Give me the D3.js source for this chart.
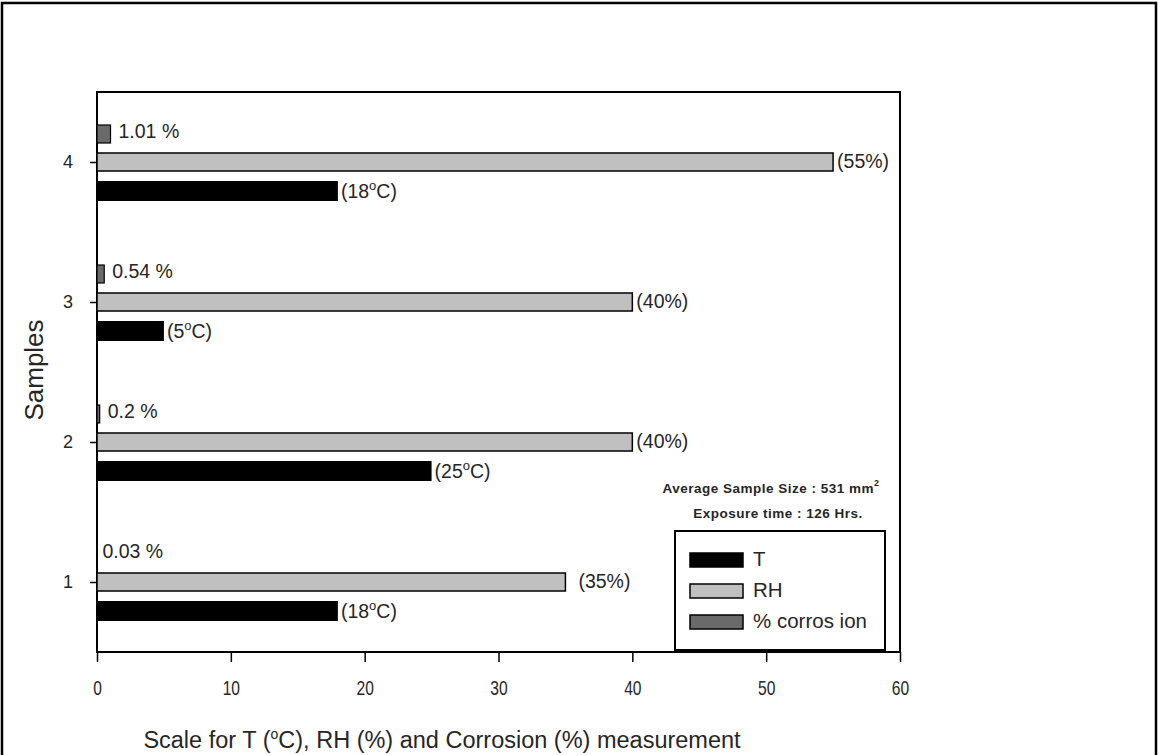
<!DOCTYPE html>
<html>
<head>
<meta charset="utf-8">
<script src="https://cdn.jsdelivr.net/npm/d3@7"></script>
<style>
  body { margin:0; background:#fff; }
  svg text { font-family: "Liberation Sans", Arial, sans-serif; fill:#262626; }
</style>
</head>
<body>
<svg id="chart" width="1158" height="755"></svg>
<script>
const samples = [1, 2, 3, 4];
const tempValues = [18, 25, 5, 18];
const rhValues = [35, 40, 40, 55];
const corrosionValues = [0.03, 0.2, 0.54, 1.01];
const tempLabels = ["18", "25", "5", "18"];
const rhLabels = ["(35%)", "(40%)", "(40%)", "(55%)"];
const corrosionLabels = ["0.03 %", "0.2 %", "0.54 %", "1.01 %"];
const xTicks = [0, 10, 20, 30, 40, 50, 60];
const seriesNames = ["T", "RH", "% corros ion"];
const seriesColors = ["#000000", "#c0c0c0", "#6a6a6a"];

(function () {
const svg = d3.select("#chart");
const pLeft = 97, pRight = 900, pTop = 92, pBottom = 652;
const x = d3.scaleLinear().domain([0, 60]).range([pLeft, pRight]);
const y = d3.scaleLinear().domain([0.5, 4.5]).range([pBottom, pTop]);
const barH = 18;
const off = 0.2;

// outer frame
svg.append("path").attr("d", `M2,755 L2,3 L1156,3 L1156,755`)
  .attr("fill", "none").attr("stroke", "#000").attr("stroke-width", 2.5);

// plot box
svg.append("rect").attr("x", pLeft).attr("y", pTop).attr("width", pRight-pLeft).attr("height", pBottom-pTop)
  .attr("fill", "none").attr("stroke", "#000").attr("stroke-width", 2);

// x axis
const xAxis = d3.axisBottom(x).tickValues(xTicks).tickSize(10).tickSizeOuter(0).tickFormat(d3.format("d"));
const gx = svg.append("g").attr("transform", `translate(0,${pBottom})`).call(xAxis);
gx.select(".domain").remove();
gx.selectAll("line").attr("stroke", "#000").attr("stroke-width", 1.5);
gx.selectAll("text").attr("font-size", 20).attr("y", 0).attr("dy", 0)
  .attr("transform", "translate(0,43) scale(0.78,1)").attr("fill", "#262626");

// y axis
const yAxis = d3.axisLeft(y).tickValues(samples).tickSize(7).tickSizeOuter(0).tickFormat(d3.format("d"));
const gy = svg.append("g").attr("transform", `translate(${pLeft},0)`).call(yAxis);
gy.select(".domain").remove();
gy.selectAll("line").attr("stroke", "#000").attr("stroke-width", 1.5);
gy.selectAll("text").attr("font-size", 18).attr("x", -24).attr("fill", "#262626");

const rows = samples.map((s, i) => ({s, t: tempValues[i], rh: rhValues[i], c: corrosionValues[i],
  tl: tempLabels[i], rl: rhLabels[i], cl: corrosionLabels[i]}));

const g = svg.append("g");
// corrosion
g.selectAll(".cbar").data(rows).join("rect")
  .attr("x", x(0)).attr("y", d => y(d.s + off) - barH/2)
  .attr("width", d => x(d.c) - x(0)).attr("height", barH)
  .attr("fill", seriesColors[2]).attr("stroke", "#000").attr("stroke-width", 1.2);
// RH
g.selectAll(".rbar").data(rows).join("rect")
  .attr("x", x(0)).attr("y", d => y(d.s) - barH/2)
  .attr("width", d => x(d.rh) - x(0)).attr("height", barH)
  .attr("fill", seriesColors[1]).attr("stroke", "#000").attr("stroke-width", 1.5);
// T
g.selectAll(".tbar").data(rows).join("rect")
  .attr("x", x(0)).attr("y", d => y(d.s - off) - barH/2)
  .attr("width", d => x(d.t) - x(0)).attr("height", barH + 2)
  .attr("fill", seriesColors[0]);

// labels
g.selectAll(".clab").data(rows).join("text")
  .attr("x", (d, i) => x(d.c) + (i === 0 ? 5 : 8)).attr("y", d => y(d.s + off) - 1)
  .attr("dominant-baseline", "middle").attr("font-size", 19.5).text(d => d.cl);
g.selectAll(".rlab").data(rows).join("text")
  .attr("x", (d, i) => x(d.rh) + (i === 0 ? 13 : 4)).attr("y", d => y(d.s) + 1)
  .attr("dominant-baseline", "middle").attr("font-size", 19.5).text(d => d.rl);
const tl = g.selectAll(".tlab").data(rows).join("text")
  .attr("x", d => x(d.t) + 3).attr("y", d => y(d.s - off) + 8)
  .attr("font-size", 19.5);
tl.append("tspan").text(d => "(" + d.tl);
tl.append("tspan").attr("dy", -8).attr("font-size", 13).text("o");
tl.append("tspan").attr("dy", 8).text("C)");

// annotations
const ann = svg.append("text").attr("x", 771).attr("y", 493).attr("text-anchor", "middle")
  .attr("font-size", 13.5).attr("font-weight", "bold").attr("letter-spacing", 0.5);
ann.append("tspan").text("Average Sample Size : 531 mm");
ann.append("tspan").attr("dy", -7).attr("font-size", 9).text("2");
svg.append("text").attr("x", 778).attr("y", 518).attr("text-anchor", "middle")
  .attr("font-size", 13.5).attr("font-weight", "bold").attr("letter-spacing", 0.5)
  .text("Exposure time : 126 Hrs.");

// legend
svg.append("rect").attr("x", 675).attr("y", 531).attr("width", 210).attr("height", 119)
  .attr("fill", "#fff").attr("stroke", "#000").attr("stroke-width", 2);
const lg = svg.append("g").selectAll("g").data(seriesNames).join("g")
  .attr("transform", (d, i) => `translate(690,${553 + i * 31})`);
lg.append("rect").attr("width", 53).attr("height", 14)
  .attr("fill", (d, i) => seriesColors[i]).attr("stroke", "#000").attr("stroke-width", 1.5);
lg.append("text").attr("x", 63).attr("y", 8).attr("dominant-baseline", "middle")
  .attr("font-size", 20.5).text(d => d);

// axis titles
const xt = svg.append("text").attr("x", 442).attr("y", 748).attr("text-anchor", "middle")
  .attr("font-size", 23.5);
xt.append("tspan").text("Scale for T (");
xt.append("tspan").attr("dy", -9).attr("font-size", 14).text("o");
xt.append("tspan").attr("dy", 9).text("C), RH (%) and Corrosion (%) measurement");

svg.append("text").attr("transform", "translate(43,370) rotate(-90)").attr("text-anchor", "middle")
  .attr("font-size", 26).text("Samples");
})();
</script>
</body>
</html>
